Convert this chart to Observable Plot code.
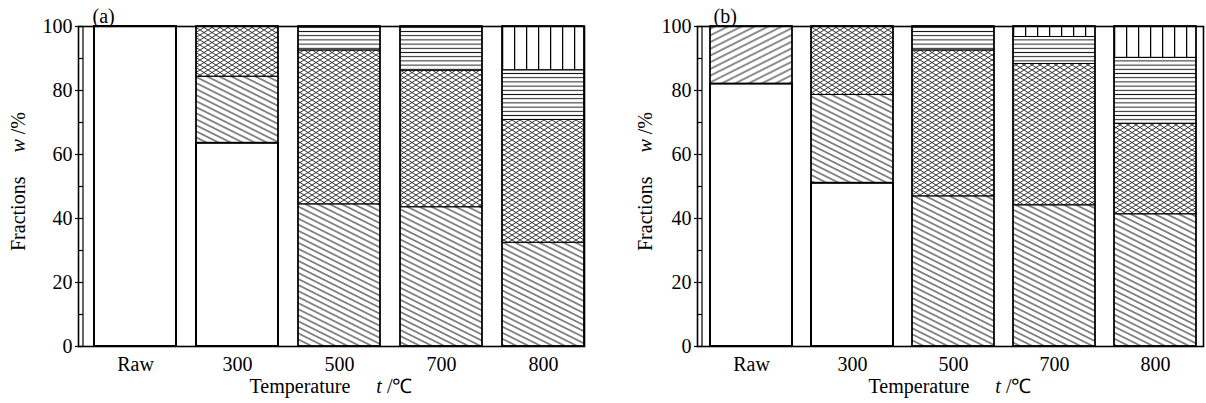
<!DOCTYPE html>
<html><head><meta charset="utf-8">
<script src="https://cdn.jsdelivr.net/npm/d3@7"></script>
<script src="https://cdn.jsdelivr.net/npm/@observablehq/plot@0.6"></script>
<style>
html,body{margin:0;padding:0;background:#fff;}
#wrap{display:flex;width:1206px;height:403px;overflow:hidden;}
#wrap svg{display:block;flex:none;}
</style></head><body>
<svg width="0" height="0" style="position:absolute">
<defs>
  <pattern id="pDiag" patternUnits="userSpaceOnUse" width="20" height="5.4" patternTransform="rotate(26.57)">
    <line x1="-1" y1="2.7" x2="21" y2="2.7" stroke="#1a1a1a" stroke-width="1"/>
  </pattern>
  <pattern id="pDiagUp" patternUnits="userSpaceOnUse" width="20" height="6" patternTransform="rotate(-26.57)">
    <line x1="-1" y1="3" x2="21" y2="3" stroke="#1a1a1a" stroke-width="1"/>
  </pattern>
  <pattern id="pCross" patternUnits="userSpaceOnUse" width="8" height="5">
    <path d="M-1,-0.625L9,5.625M-1,5.625L9,-0.625" stroke="#1a1a1a" stroke-width="0.9" fill="none"/>
  </pattern>
  <pattern id="pHoriz" patternUnits="userSpaceOnUse" width="10" height="4.2">
    <line x1="-1" y1="2.1" x2="11" y2="2.1" stroke="#1a1a1a" stroke-width="1"/>
  </pattern>
  <pattern id="pVert" patternUnits="objectBoundingBox" x="0" y="0" width="0.1463" height="1">
    <line x1="0.6" y1="-1" x2="0.6" y2="2000" stroke="#000" stroke-width="1.3"/>
  </pattern>
</defs></svg>
<div id="wrap"></div>
<script>
// ---- data ----
const categories = ["Raw", "300", "500", "700", "800"];
const components = ["blank", "hatchDown", "hatchUp", "crossHatch", "horizontal", "vertical"];
const patternFills = ["#ffffff", "url(#pDiag)", "url(#pDiagUp)", "url(#pCross)", "url(#pHoriz)", "url(#pVert)"];

// panel (a), fractions w/% (stacked bottom to top)
const aBlank      = [100, 63.5, 0, 0, 0];
const aHatchDown  = [0, 20.8, 44.4, 43.5, 32.4];
const aHatchUp    = [0, 0, 0, 0, 0];
const aCross      = [0, 15.7, 48.1, 42.7, 38.4];
const aHoriz      = [0, 0, 7.5, 13.8, 15.5];
const aVert       = [0, 0, 0, 0, 13.7];

// panel (b)
const bBlank      = [82.0, 51.0, 0, 0, 0];
const bHatchDown  = [0, 27.6, 46.9, 44.1, 41.3];
const bHatchUp    = [18.0, 0, 0, 0, 0];
const bCross      = [0, 21.4, 45.6, 44.2, 28.3];
const bHoriz      = [0, 0, 7.5, 8.4, 20.6];
const bVert       = [0, 0, 0, 3.3, 9.8];

const yTicks = [0, 20, 40, 60, 80, 100];
const yMinorTicks = [0, 10, 20, 30, 40, 50, 60, 70, 80, 90, 100];
const panelTags = ["(a)", "(b)"];

const FONT = "'Liberation Serif', 'Times New Roman', Times, serif";
const FS = 20;

function makePanel(tag, series, L) {
  const rows = [];
  categories.forEach((cat, i) => {
    components.forEach((comp, j) => {
      const v = series[j][i];
      if (v > 0) rows.push({cat, comp, value: v});
    });
  });
  const totals = categories.map((cat, i) => ({cat, total: d3.sum(series, s => s[i])}));
  const H = 403, mt = 26, mb = 57;
  const chart = Plot.plot({
    width: L.width, height: H,
    marginLeft: L.ml, marginRight: L.mr, marginTop: mt, marginBottom: mb,
    style: {fontFamily: FONT, fontSize: FS + "px", color: "black", background: "white", overflow: "visible"},
    x: {domain: categories, paddingInner: L.pi, paddingOuter: L.po, align: L.align},
    y: {domain: [0, 100]},
    color: {type: "ordinal", domain: components, range: patternFills},
    marks: [
      Plot.barY(rows, {x: "cat", y: "value", fill: "comp", stroke: "black",
        strokeWidth: d => d.comp === "blank" ? 2 : 0.9}),
      Plot.barY(totals, {x: "cat", y: "total", fill: "none", stroke: "black", strokeWidth: 1.6}),
      Plot.frame({stroke: "black", strokeWidth: 1.6}),
      Plot.axisY({ticks: yMinorTicks, tickSize: -5, tickFormat: () => "", label: null, strokeWidth: 1.2}),
      Plot.axisY({ticks: yTicks, tickSize: 3, tickPadding: 3, label: null, strokeWidth: 1.2}),
      Plot.axisX({tickSize: 0, tickPadding: 10, label: null}),
      Plot.text([tag], {frameAnchor: "top-left", dx: L.tagDx, dy: -10, textAnchor: "start", lineAnchor: "middle", fontSize: FS})
    ]
  });
  const svg = d3.select(chart);
  // inner axis line (double left axis)
  svg.append("line")
    .attr("x1", L.ml + 5).attr("x2", L.ml + 5)
    .attr("y1", mt).attr("y2", H - mb)
    .attr("stroke", "black").attr("stroke-width", 1.2);
  // y title
  const yt = svg.append("text")
    .attr("transform", `translate(${L.yTitleX},112) rotate(-90)`)
    .attr("text-anchor", "end").attr("font-family", FONT).attr("font-size", FS).attr("fill", "black");
  yt.append("tspan").text("Fractions");
  yt.append("tspan").attr("dx", 24).attr("font-style", "italic").text("w");
  yt.append("tspan").text(" /%");
  // x title
  const cx = (L.ml + (L.width - L.mr)) / 2;
  const xt = svg.append("text")
    .attr("x", cx).attr("y", 393)
    .attr("text-anchor", "middle").attr("font-family", FONT).attr("font-size", FS).attr("fill", "black");
  xt.append("tspan").text("Temperature");
  xt.append("tspan").attr("dx", 26).attr("font-style", "italic").text("t");
  xt.append("tspan").text(" /\u2103");
  return chart;
}

const wrap = document.getElementById("wrap");
wrap.appendChild(makePanel(panelTags[0],
  [aBlank, aHatchDown, aHatchUp, aCross, aHoriz, aVert],
  {width: 600, ml: 78, mr: 16, pi: 0.2, po: 0.08, align: 1, tagDx: 14, yTitleX: 25}));
wrap.appendChild(makePanel(panelTags[1],
  [bBlank, bHatchDown, bHatchUp, bCross, bHoriz, bVert],
  {width: 606, ml: 97, mr: 3, pi: 0.19, po: 0.0785, align: 0.625, tagDx: 16, yTitleX: 52}));
</script>
</body></html>
